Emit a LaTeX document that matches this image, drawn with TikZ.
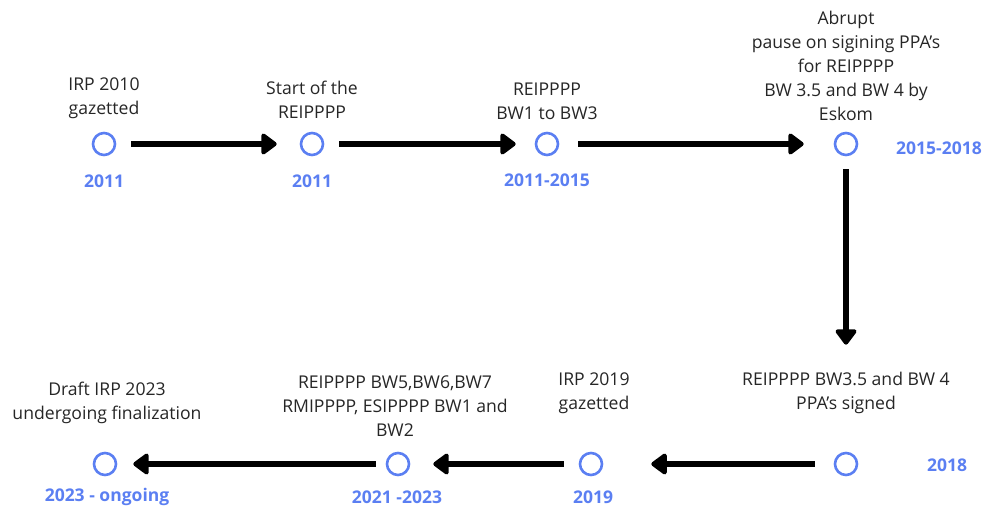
\documentclass[tikz,border=0pt]{standalone}
\usepackage{fontspec}
\setmainfont{Open Sans}
\usetikzlibrary{arrows.meta}
\definecolor{evblue}{HTML}{5B7FF2}
\tikzset{
  event/.style={circle, draw=evblue, line width=2.6pt, minimum size=22pt, inner sep=0pt},
  desc/.style={align=center, font=\fontsize{17.6}{24}\selectfont, text=black!85, inner sep=0pt},
  year/.style={font=\fontsize{17.5}{20}\selectfont\bfseries, text=evblue, inner sep=0pt},
  flow/.style={line width=6pt, -{Triangle[length=17pt,width=24pt,round]}}
}
\begin{document}
\begin{tikzpicture}[x=1pt,y=-1pt]
\useasboundingbox (0,0) rectangle (987,510);
% timeline points
\node[event] (e1) at (104,144) {};
\node[event] (e2) at (312,144) {};
\node[event] (e3) at (547,144) {};
\node[event] (e4) at (846,144) {};
\node[event] (e5) at (846,464) {};
\node[event] (e6) at (591,464) {};
\node[event] (e7) at (398,464) {};
\node[event] (e8) at (105,464) {};
% descriptions
\node[desc, anchor=south] (d1) at (104,119) {IRP 2010\\gazetted};
\node[desc, anchor=south] (d2) at (312,119) {Start of the\\REIPPPP};
\node[desc, anchor=south] (d3) at (547,120) {REIPPPP\\BW1 to BW3};
\node[desc, anchor=south] (d4) at (846,121) {Abrupt\\pause on sigining PPA’s\\for REIPPPP\\BW 3.5 and BW 4 by\\Eskom};
\node[desc, anchor=south] (d5) at (846,414) {REIPPPP BW3.5 and BW 4\\PPA’s signed};
\node[desc, anchor=south] (d6) at (594,414) {IRP 2019\\gazetted};
\node[desc, anchor=south] (d7) at (395,437) {REIPPPP BW5,BW6,BW7\\RMIPPPP, ESIPPPP BW1 and\\BW2};
\node[desc, anchor=south] (d8) at (107,424) {Draft IRP 2023\\undergoing finalization};
% dates
\node[year] (y1) at (104,181) {2011};
\node[year] (y2) at (312,181) {2011};
\node[year] (y3) at (547,180) {2011-2015};
\node[year] (y4) at (939,148) {2015-2018};
\node[year] (y5) at (947,465) {2018};
\node[year] (y6) at (593,497) {2019};
\node[year] (y7) at (397,497) {2021 -2023};
\node[year] (y8) at (107,497) {2023 - ongoing};
% connectors
\draw[flow] ([xshift=15pt]e1.east) -- ([xshift=-23pt]e2.west);
\draw[flow] ([xshift=15pt]e2.east) -- ([xshift=-19pt]e3.west);
\draw[flow] ([xshift=19pt]e3.east) -- ([xshift=-30pt]e4.west);
\draw[flow] ([yshift=-13pt]e4.south) -- ([yshift=107pt]e5.north);
\draw[flow] ([xshift=-19pt]e5.west) -- ([xshift=48pt]e6.east);
\draw[flow] ([xshift=-15pt]e6.west) -- ([xshift=23pt]e7.east);
\draw[flow] ([xshift=-10pt]e7.west) -- ([xshift=16pt]e8.east);
\end{tikzpicture}
\end{document}
